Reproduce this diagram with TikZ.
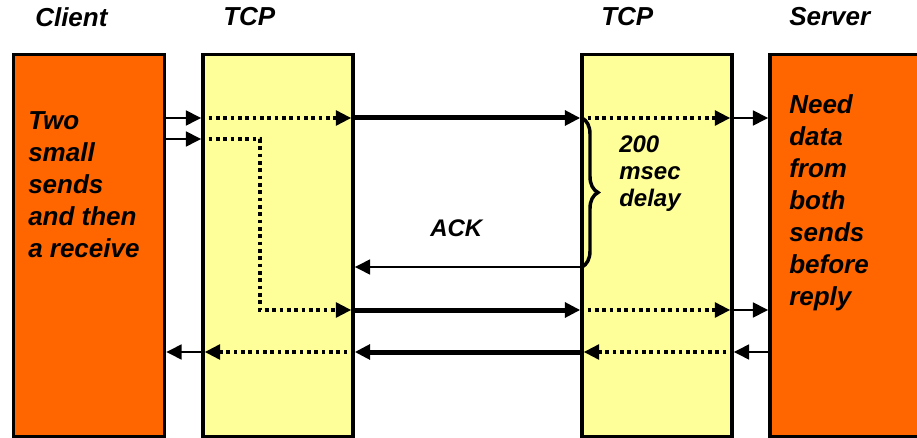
\documentclass[tikz,border=0pt]{standalone}
\usepackage{fontspec}
\setmainfont{Liberation Sans}
\usetikzlibrary{arrows.meta,decorations.pathreplacing}
\definecolor{hostorange}{HTML}{FF6600}
\definecolor{tcpyellow}{HTML}{FFFF99}
\begin{document}
\begin{tikzpicture}[x=0.75pt,y=-0.75pt,
  box/.style={draw=black,line width=2.6pt,minimum height=286.5pt,inner sep=0pt,anchor=center},
  hostbox/.style={box,fill=hostorange},
  tcpbox/.style={box,fill=tcpyellow,minimum width=112.5pt},
  lbl/.style={font=\fontsize{19.5pt}{24pt}\selectfont\bfseries\itshape,inner sep=0pt,align=left,anchor=north west},
  small/.style={font=\fontsize{18pt}{20.6pt}\selectfont\bfseries\itshape,inner sep=0pt,align=left,anchor=north west},
  tip/.style={-{Triangle[length=11.5pt,width=11pt]}},
  link/.style={tip,line width=1.9pt},
  wire/.style={tip,line width=3.75pt},
  dots/.style={tip,line width=2.6pt,dash pattern=on 2.7pt off 2.8pt,shorten >=2.6pt},
  curly/.style={line width=2.6pt,decorate,decoration={brace,amplitude=12pt}}
]
\clip (0,0) rectangle (917,438);
\useasboundingbox (0,0) rectangle (917,438);

% hosts and their TCP stacks
\node[hostbox,minimum width=113.25pt] (client) at (89,245.5) {};
\node[tcpbox] (tcpL) at (278,245.5) {};
\node[tcpbox] (tcpR) at (657,245.5) {};
\node[hostbox,minimum width=116.25pt] (server) at (847.5,245.5) {};

% column headings
\node[lbl] (hClient) at (35,7) {Client};
\node[lbl] (hTcpL) at (223,7) {TCP};
\node[lbl] (hTcpR) at (601,7) {TCP};
\node[lbl] (hServer) at (789,7) {Server};

% box texts
\node[lbl] (tClient) at (28,111) {Two\\small\\sends\\and then\\a receive};
\node[lbl] (tServer) at (789,94) {Need\\data\\from\\both\\sends\\before\\reply};
\node[small] (tDelay) at (619,135) {200\\msec\\delay};
\node[small] (tAck) at (430,219) {ACK};

% message lanes
\coordinate (y1) at (0,118);
\coordinate (y2) at (0,139);
\coordinate (y3) at (0,310);
\coordinate (y4) at (0,352);
\coordinate (bend) at (260,0);
\coordinate (bt) at (582,118);
\coordinate (bb) at (582,267);

% first small send
\draw[link] (client.east |- y1) -- (tcpL.west |- y1);
\draw[dots] (tcpL.west |- y1) -- (tcpL.east |- y1);
\draw[wire] (tcpL.east |- y1) -- (tcpR.west |- y1);
\draw[dots] (tcpR.west |- y1) -- (tcpR.east |- y1);
\draw[link] (tcpR.east |- y1) -- (server.west |- y1);

% second small send, held back in the stack
\draw[link] (client.east |- y2) -- (tcpL.west |- y2);
\draw[dots] (tcpL.west |- y2) -- (bend |- y2) -- (bend |- y3) -- (tcpL.east |- y3);
\draw[wire] (tcpL.east |- y3) -- (tcpR.west |- y3);
\draw[dots] (tcpR.west |- y3) -- (tcpR.east |- y3);
\draw[link] (tcpR.east |- y3) -- (server.west |- y3);

% delayed ACK
\draw[curly] (bt) -- (bb);
\draw[link] (bb) -- (tcpL.east |- bb);

% reply
\draw[link] (server.west |- y4) -- (tcpR.east |- y4);
\draw[dots] (tcpR.east |- y4) -- (tcpR.west |- y4);
\draw[wire] (tcpR.west |- y4) -- (tcpL.east |- y4);
\draw[dots] (tcpL.east |- y4) -- (tcpL.west |- y4);
\draw[link] (tcpL.west |- y4) -- (client.east |- y4);
\end{tikzpicture}
\end{document}
